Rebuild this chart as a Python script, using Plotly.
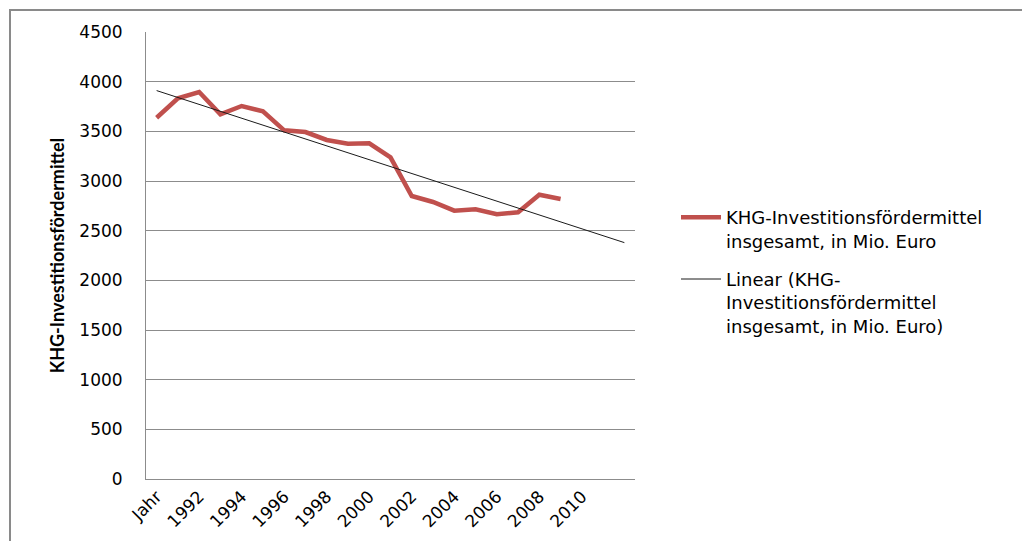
import numpy as np
import plotly.graph_objects as go

# Category axis: header cell followed by the years
categories = ["Jahr", "1991", "1992", "1993", "1994", "1995", "1996", "1997",
              "1998", "1999", "2000", "2001", "2002", "2003", "2004", "2005",
              "2006", "2007", "2008", "2009", "2010", "2011", "2012"]

# KHG-Investitionsfördermittel insgesamt, in Mio. Euro
funding = [3637, 3833, 3896, 3671, 3755, 3701, 3510, 3493, 3413, 3376,
           3379, 3238, 2849, 2789, 2701, 2715, 2665, 2685, 2862, 2819]

y_ticks = [0, 500, 1000, 1500, 2000, 2500, 3000, 3500, 4000, 4500]
x_tick_labels = ["Jahr", "1992", "1994", "1996", "1998", "2000",
                 "2002", "2004", "2006", "2008", "2010"]

# Linear trend over the observed points, projected to the end of the axis
idx = np.arange(len(funding))
slope, intercept = np.polyfit(idx, funding, 1)
trend = intercept + slope * np.arange(len(categories))

W, H = 1022, 541
L, R, T, B = 146, 635, 32, 479

font_main = "DejaVu Sans"
txt_color = "#000000"
grid_color = "#8c8c8c"

fig = go.Figure()
fig.add_trace(go.Scatter(
    x=categories[:len(funding)], y=funding, mode="lines",
    name="KHG-Investitionsfördermittel<br>insgesamt, in Mio. Euro",
    legendgroup="data",
    line=dict(color="#C0504D", width=4.5),
))
fig.add_trace(go.Scatter(
    x=categories, y=trend, mode="lines",
    name="Linear (KHG-<br>Investitionsfördermittel<br>insgesamt, in Mio. Euro)",
    legendgroup="trend",
    line=dict(color="#1a1a1a", width=1),
))

fig.update_layout(
    width=W, height=H,
    margin=dict(l=L, r=W - R, t=T, b=H - B, autoexpand=False),
    paper_bgcolor="white", plot_bgcolor="white",
    font=dict(family=font_main, size=16, color=txt_color),
    showlegend=True,
    legend=dict(
        x=(676 - L) / (R - L), y=(B - 199) / (B - T),
        xanchor="left", yanchor="top",
        font=dict(family=font_main, size=18, color=txt_color),
        valign="top", tracegroupgap=12, itemwidth=40,
        bgcolor="rgba(0,0,0,0)",
    ),
    xaxis=dict(
        type="category", categoryorder="array", categoryarray=categories,
        range=[-0.5, len(categories) - 0.5],
        tickmode="array", tickvals=x_tick_labels, ticktext=x_tick_labels,
        tickangle=-45, showgrid=False,
        showline=True, linecolor=grid_color, linewidth=1,
        ticks="", tickfont=dict(family=font_main, size=17, color=txt_color),
        zeroline=False,
    ),
    yaxis=dict(
        range=[0, 4500], tickmode="array", tickvals=y_ticks,
        showgrid=True, gridcolor=grid_color, gridwidth=1,
        showline=True, linecolor=grid_color, linewidth=1,
        zeroline=False, ticks="", ticklabelstandoff=19,
        tickfont=dict(family=font_main, size=17, color=txt_color),
        title=dict(text="<b>KHG-Investitionsfördermittel</b>",
                   font=dict(family="Lato", size=18, color=txt_color),
                   standoff=10),
    ),
    shapes=[
        # chart area frame
        dict(type="rect", xref="paper", yref="paper",
             x0=(10 - L) / (R - L), x1=(W + 20 - L) / (R - L),
             y0=(B - (H + 20)) / (B - T), y1=(B - 10) / (B - T),
             line=dict(color="#8a8a8a", width=2), layer="below"),
    ],
)

fig.write_html("out.html")
